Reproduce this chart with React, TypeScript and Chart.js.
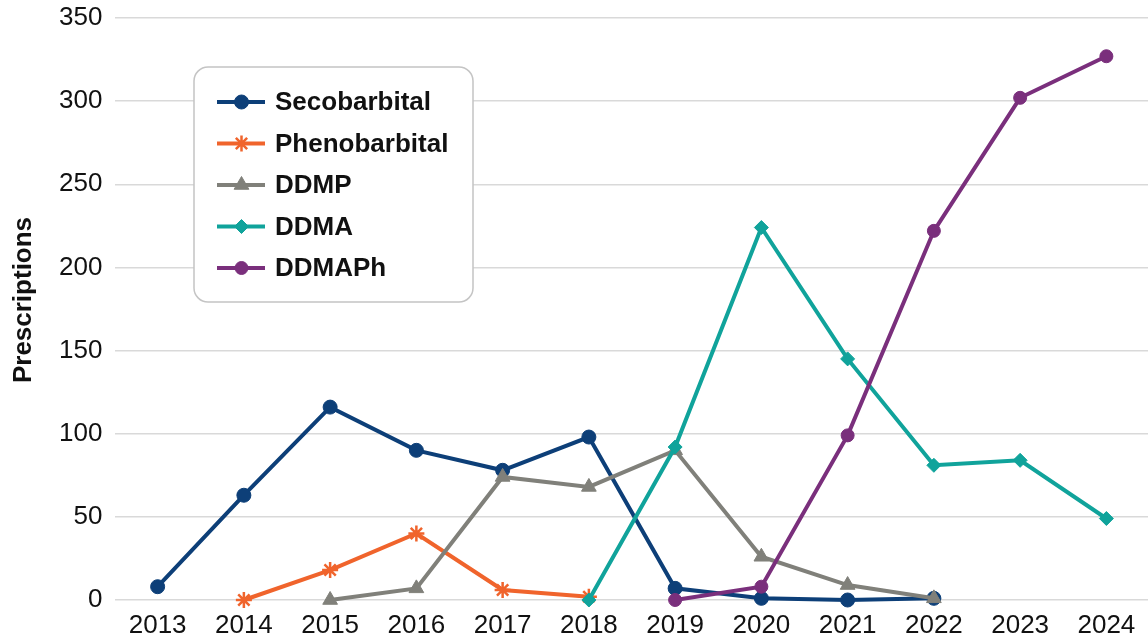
import React, { useEffect, useRef } from "react";
import { Chart, registerables } from "chart.js";
import { drawPoint } from "chart.js/helpers";

Chart.register(...registerables);

const years = ["2013", "2014", "2015", "2016", "2017", "2018", "2019", "2020", "2021", "2022", "2023", "2024"];
const secobarbital = [8, 63, 116, 90, 78, 98, 7, 1, 0, 1, null, null];
const phenobarbital = [null, 0, 18, 40, 6, 2, null, null, null, null, null, null];
const ddmp = [null, null, 0, 7, 74, 68, 90, 26, 9, 1, null, null];
const ddma = [null, null, null, null, null, 0, 92, 224, 145, 81, 84, 49];
const ddmaph = [null, null, null, null, null, null, 0, 8, 99, 222, 302, 327];
const yTitle = "Prescriptions";

const FONT = "'Liberation Sans', Arial, Helvetica, sans-serif";

const series = [
  { label: "Secobarbital", data: secobarbital, color: "#0d3f78", style: "circle", radius: 7, bw: 1 },
  { label: "Phenobarbital", data: phenobarbital, color: "#f0642c", style: "star", radius: 8, bw: 2.5 },
  { label: "DDMP", data: ddmp, color: "#80807a", style: "triangle", radius: 8.5, bw: 1 },
  { label: "DDMA", data: ddma, color: "#10a39b", style: "rectRot", radius: 7, bw: 1 },
  { label: "DDMAPh", data: ddmaph, color: "#7a2f7c", style: "circle", radius: 6.5, bw: 1 },
];

const legendPlugin = {
  id: "boxLegend",
  afterDraw(chart: any) {
    const ctx = chart.ctx;
    ctx.save();
    // y-axis title
    ctx.translate(24, 300);
    ctx.rotate(-Math.PI / 2);
    ctx.fillStyle = "#111111";
    ctx.font = `bold 26px ${FONT}`;
    ctx.textAlign = "center";
    ctx.textBaseline = "middle";
    ctx.fillText(yTitle, 0, 0);
    ctx.restore();

    const x0 = 194, y0 = 67, x1 = 473, y1 = 302, r = 14;
    ctx.save();
    ctx.beginPath();
    ctx.moveTo(x0 + r, y0);
    ctx.lineTo(x1 - r, y0);
    ctx.arcTo(x1, y0, x1, y0 + r, r);
    ctx.lineTo(x1, y1 - r);
    ctx.arcTo(x1, y1, x1 - r, y1, r);
    ctx.lineTo(x0 + r, y1);
    ctx.arcTo(x0, y1, x0, y1 - r, r);
    ctx.lineTo(x0, y0 + r);
    ctx.arcTo(x0, y0, x0 + r, y0, r);
    ctx.closePath();
    ctx.fillStyle = "#ffffff";
    ctx.fill();
    ctx.strokeStyle = "#c4c4c4";
    ctx.lineWidth = 1.5;
    ctx.stroke();
    const rows = [102, 143.5, 185, 226.5, 268];
    series.forEach((s, i) => {
      const y = rows[i];
      ctx.strokeStyle = s.color;
      ctx.fillStyle = s.color;
      ctx.lineWidth = 4;
      ctx.beginPath();
      ctx.moveTo(217, y);
      ctx.lineTo(265, y);
      ctx.stroke();
      ctx.lineWidth = s.bw;
      drawPoint(ctx, { pointStyle: s.style, rotation: 0, radius: s.radius, borderWidth: s.bw } as any, 241.5, y);
      ctx.fillStyle = "#111111";
      ctx.font = `bold 26px ${FONT}`;
      ctx.textBaseline = "middle";
      ctx.textAlign = "left";
      ctx.fillText(s.label, 275, y + 1);
    });
    ctx.restore();
  },
};

export default function App() {
  const ref = useRef<HTMLCanvasElement>(null);
  useEffect(() => {
    if (!ref.current) return;
    const chart = new Chart(ref.current, {
      type: "line",
      data: {
        labels: years,
        datasets: series.map((s, i) => ({
          label: s.label,
          data: s.data,
          borderColor: s.color,
          backgroundColor: s.color,
          borderWidth: 4,
          pointStyle: s.style as any,
          pointRadius: s.radius,
          pointBorderWidth: s.bw,
          pointBackgroundColor: s.color,
          pointBorderColor: s.color,
          spanGaps: false,
          tension: 0,
          order: 5 - i,
          clip: false as any,
        })),
      },
      options: {
        animation: false,
        responsive: false,
        devicePixelRatio: 1,
        layout: { padding: { top: 18, right: 0, left: 0, bottom: 0 } },
        plugins: { legend: { display: false }, tooltip: { enabled: false } },
        scales: {
          x: {
            offset: true,
            grid: { display: false, drawTicks: false },
            border: { display: false },
            ticks: { color: "#111", font: { family: FONT, size: 26 }, padding: 10, maxRotation: 0, autoSkip: false },
            afterFit: (s: any) => { s.height = 38; s.paddingLeft = 0; s.paddingRight = 0; },
          },
          y: {
            min: 0,
            max: 350,
            grid: { color: "#d9d9d9", lineWidth: 1.5, drawTicks: false },
            border: { display: false },
            ticks: { stepSize: 50, color: "#111", font: { family: FONT, size: 26 }, padding: 12 },
            afterFit: (s: any) => { s.width = 114.5; s.paddingTop = 0; s.paddingBottom = 0; },
          },
        },
      },
      plugins: [legendPlugin],
    });
    return () => chart.destroy();
  }, []);
  return (
    <div style={{ position: "absolute", left: 0, top: 0, width: 1148, height: 638, overflow: "hidden", background: "#fff" }}>
      <canvas ref={ref} width={1160} height={638} style={{ display: "block" }} />
    </div>
  );
}
